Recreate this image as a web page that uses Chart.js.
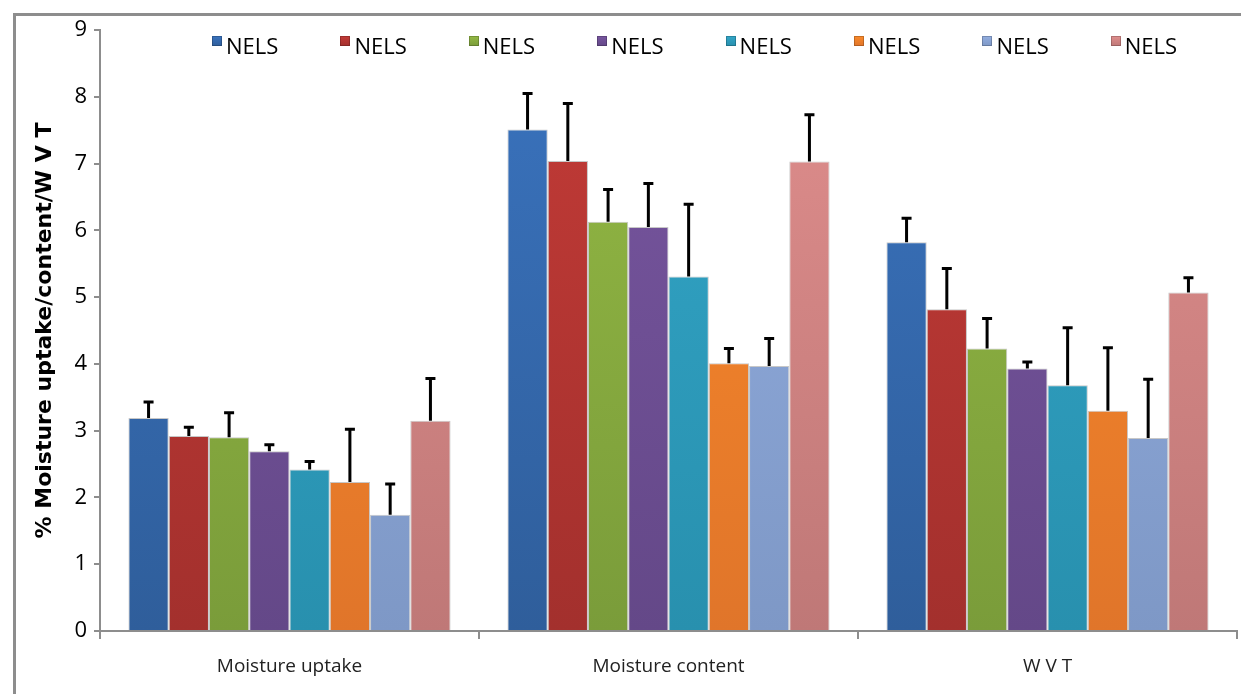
<!DOCTYPE html>
<html>
<head>
<meta charset="utf-8">
<script src="https://cdn.jsdelivr.net/npm/chart.js@4.4.1/dist/chart.umd.min.js"></script>
<style>
  html, body { margin: 0; padding: 0; background: #fff; overflow: hidden; }
  #wrap { position: relative; width: 1241px; height: 694px; overflow: hidden; }
  #frame { position: absolute; left: 13px; top: 13px; width: 1400px; height: 900px; border: 3px solid #8d8d8d; box-sizing: border-box; }
  #chart { position: absolute; left: 0; top: 0; }
  #legend { position: absolute; left: 0; top: 0; font-family: "Open Sans", sans-serif; font-size: 22px; color: #000; }
  .item { position: absolute; top: 34px; height: 22px; line-height: 22px; white-space: nowrap; }
  .box { position: absolute; left: 0; top: 2px; width: 10px; height: 10px; box-shadow: inset 0 0 0 1px rgba(0,0,0,0.2); }
  .lbl { position: absolute; left: 14px; top: 0; }
</style>
</head>
<body>
<div id="wrap">
  <div id="frame"></div>
  <canvas id="chart" width="1241" height="694"></canvas>
  <div id="legend"></div>
</div>
<script>
// data
const categories = ['Moisture uptake', 'Moisture content', 'W V T'];
const seriesNames = ['NELS', 'NELS', 'NELS', 'NELS', 'NELS', 'NELS', 'NELS', 'NELS'];

const nels1 = [3.19, 7.51, 5.82];
const nels2 = [2.92, 7.04, 4.82];
const nels3 = [2.90, 6.13, 4.23];
const nels4 = [2.69, 6.05, 3.93];
const nels5 = [2.42, 5.31, 3.68];
const nels6 = [2.23, 4.01, 3.30];
const nels7 = [1.74, 3.97, 2.89];
const nels8 = [3.15, 7.03, 5.07];

// upper error (standard deviation)
const err1 = [0.24, 0.54, 0.36];
const err2 = [0.13, 0.86, 0.61];
const err3 = [0.37, 0.48, 0.45];
const err4 = [0.10, 0.65, 0.10];
const err5 = [0.12, 1.08, 0.86];
const err6 = [0.79, 0.22, 0.94];
const err7 = [0.46, 0.41, 0.88];
const err8 = [0.63, 0.70, 0.22];

const yMin = 0;
const yMax = 9;

const allValues = [nels1, nels2, nels3, nels4, nels5, nels6, nels7, nels8];
const allErrors = [err1, err2, err3, err4, err5, err6, err7, err8];

// colours: top / bottom of the gradient
const topColors = ['#3a73be', '#c33b37', '#94b944', '#7856a0', '#33a6c8', '#fa8a2a', '#93aee0', '#e08e8d'];
const bottomColors = ['#2f5e9b', '#a3302d', '#7a9c3a', '#644888', '#2890ae', '#e0752a', '#7e98c6', '#bf7877'];

function barFill(i) {
    return function (c) {
        const area = c.chart.chartArea;
        if (!area) return topColors[i];
        const g = c.chart.ctx.createLinearGradient(0, area.top, 0, area.bottom);
        g.addColorStop(0, topColors[i]);
        g.addColorStop(1, bottomColors[i]);
        return g;
    };
}

const datasets = allValues.map((vals, i) => ({
    label: seriesNames[i],
    data: vals,
    errors: allErrors[i],
    backgroundColor: barFill(i),
    borderColor: 'rgba(0,0,0,0.22)',
    borderWidth: 1,
    categoryPercentage: 0.85,
    barPercentage: 1.0
}));

const errorBars = {
    id: 'errorBars',
    afterDatasetsDraw(chart) {
        const ctx = chart.ctx;
        const y = chart.scales.y;
        chart.data.datasets.forEach((ds, i) => {
            const meta = chart.getDatasetMeta(i);
            meta.data.forEach((bar, j) => {
                const top = y.getPixelForValue(ds.data[j] + ds.errors[j]);
                ctx.save();
                ctx.strokeStyle = '#000';
                ctx.lineWidth = 3;
                ctx.beginPath();
                ctx.moveTo(bar.x, bar.y);
                ctx.lineTo(bar.x, top);
                ctx.moveTo(bar.x - 5, top);
                ctx.lineTo(bar.x + 5, top);
                ctx.stroke();
                ctx.restore();
            });
        });
    }
};

const axisGrey = '#8d8d8d';

new Chart(document.getElementById('chart').getContext('2d'), {
    type: 'bar',
    data: {
        labels: categories,
        datasets: datasets
    },
    options: {
        responsive: false,
        animation: false,
        layout: {
            padding: { left: 0, right: 4, top: 30, bottom: 0 }
        },
        plugins: {
            legend: { display: false },
            tooltip: { enabled: false }
        },
        scales: {
            x: {
                grid: {
                    display: true,
                    drawOnChartArea: false,
                    drawTicks: true,
                    tickLength: 8,
                    color: axisGrey,
                    lineWidth: 2
                },
                border: { color: axisGrey, width: 2 },
                ticks: {
                    color: '#222',
                    padding: 16,
                    font: { family: 'Open Sans', size: 19 }
                },
                afterFit(scale) { scale.height = 63; }
            },
            y: {
                min: yMin,
                max: yMax,
                grid: {
                    display: true,
                    drawOnChartArea: false,
                    drawTicks: true,
                    tickLength: 6,
                    color: axisGrey,
                    lineWidth: 2
                },
                border: { color: axisGrey, width: 2 },
                ticks: {
                    stepSize: 1,
                    color: '#000',
                    padding: 7,
                    font: { family: 'Open Sans', size: 22 }
                },
                title: {
                    display: true,
                    text: '% Moisture uptake/content/W V T',
                    color: '#000',
                    padding: { top: 32, bottom: 0 },
                    font: { family: 'DejaVu Sans', size: 22, weight: 'bold' }
                },
                afterFit(scale) { scale.width = 100; }
            }
        }
    },
    plugins: [errorBars]
});

// legend laid over the plot, as in the picture
const legend = document.getElementById('legend');
seriesNames.forEach((name, i) => {
    const item = document.createElement('div');
    item.className = 'item';
    item.style.left = (212 + i * 128.4) + 'px';
    const box = document.createElement('span');
    box.className = 'box';
    box.style.background = 'linear-gradient(' + topColors[i] + ', ' + bottomColors[i] + ')';
    const lbl = document.createElement('span');
    lbl.className = 'lbl';
    lbl.textContent = name;
    item.appendChild(box);
    item.appendChild(lbl);
    legend.appendChild(item);
});
</script>
</body>
</html>
